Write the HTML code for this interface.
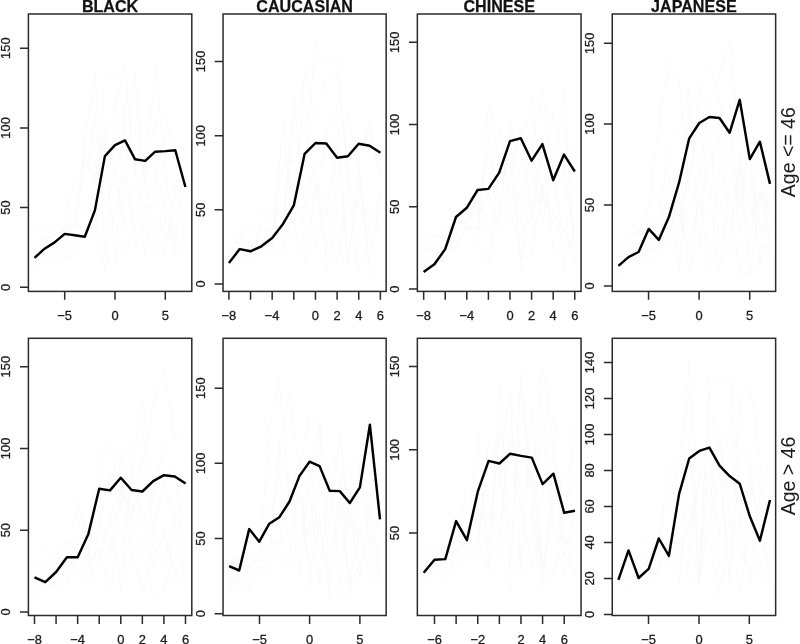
<!DOCTYPE html>
<html lang="en"><head><meta charset="utf-8"><title>Figure</title>
<style>html,body{margin:0;padding:0;background:#fff}body{width:800px;height:644px;overflow:hidden}svg{display:block;filter:blur(0.35px)}</style>
</head><body>
<svg width="800" height="644" viewBox="0 0 800 644" font-family='"Liberation Sans", Arial, Helvetica, sans-serif'>
<rect width="800" height="644" fill="#fff"/>
<g fill="none" stroke="#f8f8f8" stroke-width="0.55"><polyline points="34.5,266.1 44.6,241.2 54.6,254.7 64.7,237.1 74.7,223.6 84.8,236.3 94.9,234.4 104.9,127.0 115.0,262.2 125.0,103.3 135.1,92.9 145.2,184.1 155.2,186.1 165.3,125.8 175.3,163.7 185.4,166.5"/><polyline points="34.5,256.6 44.6,253.8 54.6,233.0 64.7,231.7 74.7,225.2 84.8,208.8 94.9,189.3 104.9,179.2 115.0,225.9 125.0,256.3 135.1,222.3 145.2,226.7 155.2,256.3 165.3,233.9 175.3,248.7 185.4,253.8"/><polyline points="34.5,239.0 44.6,248.3 54.6,233.4 64.7,230.9 74.7,226.1 84.8,140.5 94.9,71.9 104.9,256.3 115.0,106.1 125.0,65.1 135.1,164.7 145.2,256.3 155.2,173.5 165.3,256.3 175.3,184.9 185.4,236.2"/><polyline points="34.5,251.5 44.6,237.8 54.6,234.3 64.7,228.1 74.7,237.9 84.8,229.3 94.9,225.7 104.9,207.1 115.0,180.5 125.0,232.7 135.1,228.8 145.2,205.1 155.2,244.2 165.3,219.8 175.3,192.7 185.4,226.9"/><polyline points="34.5,227.2 44.6,229.0 54.6,227.0 64.7,226.0 74.7,180.3 84.8,179.6 94.9,116.8 104.9,210.8 115.0,211.6 125.0,165.0 135.1,246.4 145.2,219.5 155.2,199.8 165.3,216.7 175.3,252.3 185.4,231.6"/><polyline points="34.5,268.3 44.6,265.1 54.6,245.6 64.7,257.6 74.7,256.0 84.8,227.2 94.9,208.5 104.9,271.9 115.0,208.5 125.0,186.0 135.1,226.5 145.2,232.9 155.2,216.9 165.3,236.0 175.3,222.2 185.4,231.7"/><polyline points="34.5,259.7 44.6,258.7 54.6,261.9 64.7,256.8 74.7,245.3 84.8,240.7 94.9,224.5 104.9,74.2 115.0,76.9 125.0,74.4 135.1,175.7 145.2,179.0 155.2,120.0 165.3,113.0 175.3,155.5 185.4,225.4"/><polyline points="34.5,243.3 44.6,245.8 54.6,225.1 64.7,231.7 74.7,214.6 84.8,205.1 94.9,214.7 104.9,146.5 115.0,100.4 125.0,185.6 135.1,74.7 145.2,182.8 155.2,63.9 165.3,168.9 175.3,250.4 185.4,142.7"/><polyline points="34.5,230.4 44.6,241.0 54.6,234.8 64.7,228.7 74.7,224.9 84.8,162.4 94.9,179.9 104.9,128.4 115.0,175.8 125.0,129.0 135.1,127.6 145.2,181.6 155.2,236.0 165.3,246.3 175.3,207.4 185.4,237.9"/><polyline points="34.5,249.0 44.6,238.1 54.6,250.3 64.7,233.6 74.7,207.0 84.8,158.1 94.9,177.8 104.9,145.1 115.0,173.0 125.0,182.4 135.1,199.1 145.2,208.3 155.2,206.5 165.3,208.6 175.3,239.4 185.4,241.8"/><polyline points="34.5,252.8 44.6,253.9 54.6,254.3 64.7,246.9 74.7,246.4 84.8,148.3 94.9,161.7 104.9,200.9 115.0,179.3 125.0,216.9 135.1,210.0 145.2,213.0 155.2,163.4 165.3,218.7 175.3,247.5 185.4,245.2"/></g>
<rect x="28.4" y="14.0" width="163.4" height="277.4" fill="none" stroke="#2b2b2b" stroke-width="1.5"/>
<path d="M28.4 287.30h-8.4M28.4 207.60h-8.4M28.4 127.90h-8.4M28.4 48.20h-8.4M64.70 291.4v8.4M115.00 291.4v8.4M165.30 291.4v8.4" fill="none" stroke="#2b2b2b" stroke-width="1.5"/>
<g font-size="12.9" fill="#1c1c1c" stroke="#1c1c1c" stroke-width="0.3" text-anchor="middle">
<text transform="translate(9.8 287.30) rotate(-90)">0</text>
<text transform="translate(9.8 207.60) rotate(-90)">50</text>
<text transform="translate(9.8 127.90) rotate(-90)">100</text>
<text transform="translate(9.8 48.20) rotate(-90)">150</text>
<text x="64.70" y="319.5">−5</text>
<text x="115.00" y="319.5">0</text>
<text x="165.30" y="319.5">5</text>
</g>
<text x="110.1" y="11.7" font-size="16.1" font-weight="bold" fill="#111" stroke="#111" stroke-width="0.25" text-anchor="middle">BLACK</text>
<polyline points="34.5,257.8 44.6,248.7 54.6,242.4 64.7,233.9 74.7,235.2 84.8,236.7 94.9,210.4 104.9,156.1 115.0,145.2 125.0,140.4 135.1,159.3 145.2,160.9 155.2,151.7 165.3,151.1 175.3,150.2 185.4,187.0" fill="none" stroke="#000" stroke-width="2.45" stroke-linejoin="round" stroke-linecap="butt"/>
<g fill="none" stroke="#f8f8f8" stroke-width="0.55"><polyline points="228.9,255.7 239.7,233.6 250.5,250.1 261.4,224.4 272.2,204.0 283.0,218.4 293.8,136.6 304.6,151.5 315.5,142.2 326.3,132.6 337.1,186.2 347.9,202.2 358.7,228.3 369.6,243.0 380.4,258.1"/><polyline points="228.9,255.8 239.7,270.8 250.5,245.4 261.4,250.7 272.2,248.5 283.0,122.6 293.8,163.8 304.6,126.3 315.5,186.7 326.3,195.3 337.1,157.4 347.9,115.2 358.7,166.3 369.6,272.5 380.4,272.5"/><polyline points="228.9,260.8 239.7,250.3 250.5,245.4 261.4,240.2 272.2,237.9 283.0,224.0 293.8,109.0 304.6,194.8 315.5,196.7 326.3,136.4 337.1,106.8 347.9,267.1 358.7,164.1 369.6,267.1 380.4,192.9"/><polyline points="228.9,256.2 239.7,247.6 250.5,240.3 261.4,242.0 272.2,227.7 283.0,223.5 293.8,93.5 304.6,210.1 315.5,187.6 326.3,252.3 337.1,180.1 347.9,183.9 358.7,212.4 369.6,216.8 380.4,207.2"/><polyline points="228.9,226.8 239.7,239.5 250.5,215.6 261.4,213.3 272.2,212.9 283.0,203.5 293.8,195.8 304.6,225.1 315.5,234.5 326.3,196.1 337.1,215.4 347.9,210.2 358.7,204.0 369.6,243.5 380.4,227.7"/><polyline points="228.9,262.7 239.7,249.4 250.5,259.2 261.4,252.2 272.2,257.3 283.0,253.0 293.8,208.4 304.6,226.4 315.5,239.5 326.3,273.9 337.1,208.8 347.9,212.3 358.7,198.4 369.6,214.2 380.4,229.2"/><polyline points="228.9,242.8 239.7,243.9 250.5,223.8 261.4,229.8 272.2,214.4 283.0,216.2 293.8,202.9 304.6,198.7 315.5,235.8 326.3,212.4 337.1,238.0 347.9,212.2 358.7,225.7 369.6,204.1 380.4,225.5"/><polyline points="228.9,268.1 239.7,253.8 250.5,244.9 261.4,253.0 272.2,252.5 283.0,161.3 293.8,161.2 304.6,172.2 315.5,43.1 326.3,64.2 337.1,53.6 347.9,172.6 358.7,274.7 369.6,225.2 380.4,198.5"/><polyline points="228.9,264.8 239.7,254.3 250.5,249.4 261.4,243.9 272.2,237.3 283.0,128.1 293.8,223.7 304.6,262.8 315.5,184.7 326.3,217.1 337.1,147.1 347.9,262.8 358.7,186.4 369.6,235.1 380.4,228.2"/><polyline points="228.9,265.5 239.7,241.6 250.5,245.8 261.4,228.5 272.2,231.6 283.0,235.5 293.8,233.5 304.6,70.2 315.5,115.7 326.3,79.3 337.1,73.3 347.9,179.1 358.7,163.3 369.6,119.9 380.4,177.9"/><polyline points="228.9,263.0 239.7,258.1 250.5,251.8 261.4,228.8 272.2,234.2 283.0,236.1 293.8,213.5 304.6,206.1 315.5,163.5 326.3,262.2 337.1,262.2 347.9,188.5 358.7,149.4 369.6,128.1 380.4,181.3"/></g>
<rect x="223.05" y="14.0" width="163.1" height="277.4" fill="none" stroke="#2b2b2b" stroke-width="1.5"/>
<path d="M223.05 284.00h-8.4M223.05 209.80h-8.4M223.05 135.80h-8.4M223.05 61.40h-8.4M228.90 291.4v8.4M250.54 291.4v8.4M272.18 291.4v8.4M293.82 291.4v8.4M315.46 291.4v8.4M337.10 291.4v8.4M358.74 291.4v8.4M380.38 291.4v8.4" fill="none" stroke="#2b2b2b" stroke-width="1.5"/>
<g font-size="12.9" fill="#1c1c1c" stroke="#1c1c1c" stroke-width="0.3" text-anchor="middle">
<text transform="translate(204.5 284.00) rotate(-90)">0</text>
<text transform="translate(204.5 209.80) rotate(-90)">50</text>
<text transform="translate(204.5 135.80) rotate(-90)">100</text>
<text transform="translate(204.5 61.40) rotate(-90)">150</text>
<text x="228.90" y="319.5">−8</text>
<text x="272.18" y="319.5">−4</text>
<text x="315.46" y="319.5">0</text>
<text x="337.10" y="319.5">2</text>
<text x="358.74" y="319.5">4</text>
<text x="380.38" y="319.5">6</text>
</g>
<text x="304.6" y="11.7" font-size="16.1" font-weight="bold" fill="#111" stroke="#111" stroke-width="0.25" text-anchor="middle">CAUCASIAN</text>
<polyline points="228.9,263.0 239.7,249.1 250.5,251.3 261.4,246.3 272.2,238.0 283.0,223.9 293.8,205.4 304.6,153.9 315.5,143.0 326.3,143.5 337.1,157.8 347.9,156.3 358.7,143.7 369.6,145.7 380.4,152.8" fill="none" stroke="#000" stroke-width="2.45" stroke-linejoin="round" stroke-linecap="butt"/>
<g fill="none" stroke="#f8f8f8" stroke-width="0.55"><polyline points="423.6,242.7 434.4,235.7 445.2,236.0 456.0,222.6 466.8,221.5 477.6,209.7 488.4,203.1 499.2,225.3 510.0,199.9 520.8,195.7 531.6,162.3 542.4,222.3 553.2,166.8 564.0,164.7 574.8,239.8"/><polyline points="423.6,269.4 434.4,263.1 445.2,248.6 456.0,239.4 466.8,227.7 477.6,228.2 488.4,225.0 499.2,216.9 510.0,118.1 520.8,186.2 531.6,154.7 542.4,87.4 553.2,171.8 564.0,88.9 574.8,267.0"/><polyline points="423.6,257.6 434.4,267.6 445.2,255.1 456.0,245.9 466.8,228.1 477.6,231.0 488.4,138.2 499.2,203.1 510.0,130.5 520.8,267.9 531.6,176.7 542.4,184.6 553.2,174.3 564.0,267.9 574.8,224.3"/><polyline points="423.6,235.1 434.4,235.9 445.2,238.5 456.0,213.8 466.8,225.5 477.6,207.5 488.4,217.4 499.2,220.0 510.0,214.2 520.8,198.2 531.6,219.9 542.4,184.7 553.2,226.0 564.0,227.8 574.8,248.8"/><polyline points="423.6,247.3 434.4,252.3 445.2,252.4 456.0,248.1 466.8,225.5 477.6,187.5 488.4,202.0 499.2,181.9 510.0,161.6 520.8,260.4 531.6,237.9 542.4,196.0 553.2,215.7 564.0,227.4 574.8,260.4"/><polyline points="423.6,251.0 434.4,249.1 445.2,233.4 456.0,235.0 466.8,225.9 477.6,230.5 488.4,215.8 499.2,216.3 510.0,208.0 520.8,257.3 531.6,257.3 542.4,189.8 553.2,211.2 564.0,234.3 574.8,194.8"/><polyline points="423.6,231.9 434.4,234.0 445.2,221.0 456.0,239.4 466.8,228.9 477.6,217.6 488.4,192.9 499.2,226.3 510.0,223.7 520.8,194.6 531.6,201.9 542.4,200.8 553.2,221.4 564.0,242.2 574.8,250.2"/><polyline points="423.6,264.7 434.4,253.4 445.2,252.6 456.0,245.9 466.8,250.6 477.6,238.7 488.4,270.0 499.2,163.7 510.0,184.1 520.8,128.8 531.6,213.0 542.4,136.9 553.2,185.3 564.0,181.4 574.8,226.9"/><polyline points="423.6,250.8 434.4,244.5 445.2,239.4 456.0,236.7 466.8,212.9 477.6,215.6 488.4,195.3 499.2,129.8 510.0,204.7 520.8,163.2 531.6,217.4 542.4,146.9 553.2,250.8 564.0,250.8 574.8,234.6"/><polyline points="423.6,245.9 434.4,251.5 445.2,251.2 456.0,232.9 466.8,223.5 477.6,239.8 488.4,100.6 499.2,160.6 510.0,172.7 520.8,154.7 531.6,91.8 542.4,193.3 553.2,110.7 564.0,177.9 574.8,145.1"/><polyline points="423.6,237.0 434.4,244.9 445.2,230.1 456.0,222.0 466.8,223.4 477.6,197.7 488.4,157.2 499.2,220.2 510.0,135.1 520.8,223.5 531.6,143.5 542.4,196.9 553.2,165.5 564.0,248.9 574.8,247.0"/></g>
<rect x="417.35" y="14.0" width="163.7" height="277.4" fill="none" stroke="#2b2b2b" stroke-width="1.5"/>
<path d="M417.35 289.05h-8.4M417.35 206.80h-8.4M417.35 124.50h-8.4M417.35 42.30h-8.4M423.65 291.4v8.4M445.24 291.4v8.4M466.82 291.4v8.4M488.41 291.4v8.4M509.99 291.4v8.4M531.58 291.4v8.4M553.17 291.4v8.4M574.75 291.4v8.4" fill="none" stroke="#2b2b2b" stroke-width="1.5"/>
<g font-size="12.9" fill="#1c1c1c" stroke="#1c1c1c" stroke-width="0.3" text-anchor="middle">
<text transform="translate(398.8 289.05) rotate(-90)">0</text>
<text transform="translate(398.8 206.80) rotate(-90)">50</text>
<text transform="translate(398.8 124.50) rotate(-90)">100</text>
<text transform="translate(398.8 42.30) rotate(-90)">150</text>
<text x="423.65" y="319.5">−8</text>
<text x="466.82" y="319.5">−4</text>
<text x="509.99" y="319.5">0</text>
<text x="531.58" y="319.5">2</text>
<text x="553.17" y="319.5">4</text>
<text x="574.75" y="319.5">6</text>
</g>
<text x="499.2" y="11.7" font-size="16.1" font-weight="bold" fill="#111" stroke="#111" stroke-width="0.25" text-anchor="middle">CHINESE</text>
<polyline points="423.6,272.0 434.4,264.3 445.2,249.1 456.0,217.0 466.8,207.8 477.6,190.0 488.4,188.9 499.2,172.6 510.0,141.1 520.8,138.3 531.6,160.7 542.4,144.1 553.2,180.2 564.0,154.6 574.8,171.5" fill="none" stroke="#000" stroke-width="2.45" stroke-linejoin="round" stroke-linecap="butt"/>
<g fill="none" stroke="#f8f8f8" stroke-width="0.55"><polyline points="618.4,274.6 628.5,255.8 638.6,248.4 648.7,236.4 658.8,252.3 668.9,233.6 679.1,234.9 689.2,167.9 699.3,191.8 709.4,269.9 719.5,169.4 729.6,118.1 739.7,208.7 749.8,136.7 759.9,231.9 770.0,216.5"/><polyline points="618.4,236.1 628.5,231.2 638.6,236.7 648.7,224.6 658.8,217.1 668.9,206.6 679.1,192.0 689.2,192.9 699.3,108.2 709.4,99.5 719.5,126.4 729.6,183.8 739.7,184.3 749.8,173.2 759.9,224.4 770.0,233.2"/><polyline points="618.4,255.1 628.5,263.3 638.6,258.7 648.7,249.2 658.8,238.9 668.9,233.4 679.1,228.9 689.2,234.3 699.3,233.5 709.4,210.5 719.5,199.7 729.6,235.6 739.7,167.4 749.8,275.2 759.9,192.5 770.0,210.3"/><polyline points="618.4,228.6 628.5,221.4 638.6,232.2 648.7,206.9 658.8,125.2 668.9,61.4 679.1,80.6 689.2,189.4 699.3,85.4 709.4,64.3 719.5,101.0 729.6,161.3 739.7,208.4 749.8,198.6 759.9,245.7 770.0,248.8"/><polyline points="618.4,254.8 628.5,266.8 638.6,251.0 648.7,243.2 658.8,245.2 668.9,227.0 679.1,230.0 689.2,107.3 699.3,180.9 709.4,99.6 719.5,73.7 729.6,43.8 739.7,141.3 749.8,146.9 759.9,269.7 770.0,145.9"/><polyline points="618.4,249.9 628.5,243.1 638.6,229.4 648.7,229.6 658.8,225.9 668.9,228.8 679.1,212.5 689.2,250.5 699.3,199.1 709.4,164.8 719.5,133.2 729.6,165.2 739.7,156.3 749.8,250.5 759.9,140.7 770.0,250.5"/><polyline points="618.4,244.2 628.5,242.6 638.6,243.9 648.7,222.6 658.8,219.6 668.9,145.2 679.1,131.0 689.2,86.9 699.3,249.3 709.4,117.6 719.5,249.3 729.6,249.3 739.7,154.5 749.8,214.1 759.9,189.7 770.0,208.6"/><polyline points="618.4,262.3 628.5,247.8 638.6,249.6 648.7,250.8 658.8,244.1 668.9,177.2 679.1,273.2 689.2,145.5 699.3,107.0 709.4,146.8 719.5,118.9 729.6,133.1 739.7,229.7 749.8,192.4 759.9,194.9 770.0,242.7"/><polyline points="618.4,259.2 628.5,235.3 638.6,231.8 648.7,243.0 658.8,239.1 668.9,214.6 679.1,231.2 689.2,203.7 699.3,186.8 709.4,178.1 719.5,208.0 729.6,258.4 739.7,246.9 749.8,240.9 759.9,223.2 770.0,241.1"/><polyline points="618.4,276.8 628.5,250.7 638.6,260.5 648.7,260.6 658.8,258.3 668.9,237.6 679.1,194.0 689.2,274.4 699.3,197.2 709.4,180.5 719.5,274.4 729.6,189.2 739.7,274.4 749.8,274.4 759.9,258.4 770.0,240.6"/><polyline points="618.4,255.8 628.5,254.4 638.6,258.3 648.7,252.1 658.8,248.9 668.9,241.5 679.1,270.9 689.2,138.1 699.3,137.1 709.4,169.2 719.5,139.7 729.6,218.0 739.7,219.0 749.8,231.5 759.9,192.5 770.0,217.0"/></g>
<rect x="612.25" y="14.0" width="163.4" height="277.4" fill="none" stroke="#2b2b2b" stroke-width="1.5"/>
<path d="M612.25 286.00h-8.4M612.25 205.00h-8.4M612.25 124.00h-8.4M612.25 43.30h-8.4M648.55 291.4v8.4M699.10 291.4v8.4M749.70 291.4v8.4" fill="none" stroke="#2b2b2b" stroke-width="1.5"/>
<g font-size="12.9" fill="#1c1c1c" stroke="#1c1c1c" stroke-width="0.3" text-anchor="middle">
<text transform="translate(593.6 286.00) rotate(-90)">0</text>
<text transform="translate(593.6 205.00) rotate(-90)">50</text>
<text transform="translate(593.6 124.00) rotate(-90)">100</text>
<text transform="translate(593.6 43.30) rotate(-90)">150</text>
<text x="648.55" y="319.5">−5</text>
<text x="699.10" y="319.5">0</text>
<text x="749.70" y="319.5">5</text>
</g>
<text x="693.9" y="11.7" font-size="16.1" font-weight="bold" fill="#111" stroke="#111" stroke-width="0.25" text-anchor="middle">JAPANESE</text>
<polyline points="618.4,265.9 628.5,257.1 638.6,252.0 648.7,228.9 658.8,239.9 668.9,217.1 679.1,182.4 689.2,138.3 699.3,123.0 709.4,117.0 719.5,118.0 729.6,132.8 739.7,99.8 749.8,159.1 759.9,141.7 770.0,183.9" fill="none" stroke="#000" stroke-width="2.45" stroke-linejoin="round" stroke-linecap="butt"/>
<g fill="none" stroke="#f8f8f8" stroke-width="0.55"><polyline points="34.5,578.4 45.3,567.8 56.1,587.5 66.9,570.0 77.7,564.9 88.4,552.0 99.2,562.5 110.0,544.4 120.8,524.8 131.6,518.3 142.4,560.7 153.2,592.7 164.0,592.7 174.8,536.6 185.6,545.9"/><polyline points="34.5,551.0 45.3,549.6 56.1,552.8 66.9,541.9 77.7,543.8 88.4,540.5 99.2,532.2 110.0,530.5 120.8,500.6 131.6,503.3 142.4,527.2 153.2,568.6 164.0,528.0 174.8,520.0 185.6,547.8"/><polyline points="34.5,564.1 45.3,570.6 56.1,556.9 66.9,541.0 77.7,552.4 88.4,548.5 99.2,540.6 110.0,525.2 120.8,458.9 131.6,531.4 142.4,513.4 153.2,530.8 164.0,527.9 174.8,573.8 185.6,573.8"/><polyline points="34.5,591.9 45.3,586.9 56.1,582.4 66.9,581.5 77.7,555.9 88.4,566.9 99.2,546.4 110.0,594.5 120.8,501.0 131.6,548.0 142.4,594.5 153.2,545.4 164.0,564.1 174.8,513.5 185.6,540.9"/><polyline points="34.5,560.5 45.3,561.4 56.1,557.8 66.9,561.7 77.7,557.8 88.4,554.2 99.2,478.2 110.0,443.3 120.8,503.0 131.6,441.8 142.4,424.0 153.2,531.9 164.0,483.6 174.8,465.0 185.6,577.8"/><polyline points="34.5,594.6 45.3,590.4 56.1,572.5 66.9,561.4 77.7,575.5 88.4,566.6 99.2,548.8 110.0,553.6 120.8,488.6 131.6,518.0 142.4,462.8 153.2,404.8 164.0,366.0 174.8,440.4 185.6,430.5"/><polyline points="34.5,590.3 45.3,584.9 56.1,558.3 66.9,560.5 77.7,501.1 88.4,549.3 99.2,524.5 110.0,475.8 120.8,476.7 131.6,544.6 142.4,559.0 153.2,557.1 164.0,535.8 174.8,574.2 185.6,557.8"/><polyline points="34.5,580.8 45.3,586.5 56.1,563.3 66.9,570.4 77.7,552.6 88.4,562.4 99.2,554.6 110.0,518.6 120.8,589.7 131.6,467.7 142.4,519.5 153.2,494.0 164.0,476.9 174.8,518.5 185.6,589.7"/><polyline points="34.5,578.7 45.3,578.6 56.1,589.3 66.9,584.3 77.7,555.2 88.4,557.6 99.2,562.9 110.0,513.3 120.8,494.4 131.6,478.3 142.4,398.8 153.2,503.8 164.0,441.0 174.8,453.1 185.6,460.8"/><polyline points="34.5,595.5 45.3,571.0 56.1,570.1 66.9,579.2 77.7,574.0 88.4,561.3 99.2,452.4 110.0,482.5 120.8,443.7 131.6,517.1 142.4,477.8 153.2,526.7 164.0,483.6 174.8,533.8 185.6,535.8"/><polyline points="34.5,576.1 45.3,587.0 56.1,581.2 66.9,558.5 77.7,546.7 88.4,587.5 99.2,525.3 110.0,551.6 120.8,530.6 131.6,555.5 142.4,536.3 153.2,530.0 164.0,556.1 174.8,587.5 185.6,571.2"/></g>
<rect x="28.4" y="338.3" width="163.4" height="277.2" fill="none" stroke="#2b2b2b" stroke-width="1.5"/>
<path d="M28.4 612.00h-8.4M28.4 530.20h-8.4M28.4 448.40h-8.4M28.4 366.70h-8.4M34.50 615.55v8.4M56.07 615.55v8.4M77.64 615.55v8.4M99.21 615.55v8.4M120.78 615.55v8.4M142.35 615.55v8.4M163.92 615.55v8.4M185.49 615.55v8.4" fill="none" stroke="#2b2b2b" stroke-width="1.5"/>
<g font-size="12.9" fill="#1c1c1c" stroke="#1c1c1c" stroke-width="0.3" text-anchor="middle">
<text transform="translate(9.8 612.00) rotate(-90)">0</text>
<text transform="translate(9.8 530.20) rotate(-90)">50</text>
<text transform="translate(9.8 448.40) rotate(-90)">100</text>
<text transform="translate(9.8 366.70) rotate(-90)">150</text>
<text x="34.50" y="643.6">−8</text>
<text x="77.64" y="643.6">−4</text>
<text x="120.78" y="643.6">0</text>
<text x="142.35" y="643.6">2</text>
<text x="163.92" y="643.6">4</text>
<text x="185.49" y="643.6">6</text>
</g>
<polyline points="34.5,577.4 45.3,582.2 56.1,572.0 66.9,557.2 77.7,557.2 88.4,533.9 99.2,488.7 110.0,490.4 120.8,477.8 131.6,490.0 142.4,491.5 153.2,481.1 164.0,475.2 174.8,476.5 185.6,483.5" fill="none" stroke="#000" stroke-width="2.45" stroke-linejoin="round" stroke-linecap="butt"/>
<g fill="none" stroke="#f8f8f8" stroke-width="0.55"><polyline points="229.1,580.9 239.2,569.8 249.2,552.7 259.3,555.8 269.3,547.2 279.4,553.9 289.5,549.1 299.5,544.5 309.6,490.2 319.6,582.7 329.7,476.4 339.8,582.7 349.8,582.7 359.9,530.5 369.9,502.0 380.0,502.0"/><polyline points="229.1,566.0 239.2,563.4 249.2,556.2 259.3,563.0 269.3,546.3 279.4,546.5 289.5,533.7 299.5,524.8 309.6,532.9 319.6,423.6 329.7,491.5 339.8,439.5 349.8,505.3 359.9,499.3 369.9,512.8 380.0,578.6"/><polyline points="229.1,568.1 239.2,556.0 249.2,558.3 259.3,561.8 269.3,425.4 279.4,379.4 289.5,502.6 299.5,573.8 309.6,456.0 319.6,433.2 329.7,533.7 339.8,434.1 349.8,533.4 359.9,527.3 369.9,539.4 380.0,548.0"/><polyline points="229.1,559.0 239.2,557.1 249.2,568.5 259.3,549.5 269.3,542.3 279.4,543.6 289.5,526.4 299.5,492.4 309.6,575.8 319.6,526.2 329.7,575.8 339.8,484.3 349.8,504.8 359.9,575.8 369.9,507.1 380.0,516.0"/><polyline points="229.1,576.3 239.2,591.4 249.2,570.0 259.3,573.2 269.3,560.4 279.4,443.7 289.5,394.7 299.5,471.7 309.6,411.5 319.6,419.8 329.7,595.6 339.8,506.1 349.8,466.0 359.9,523.1 369.9,527.4 380.0,554.4"/><polyline points="229.1,591.6 239.2,567.1 249.2,566.0 259.3,560.4 269.3,527.9 279.4,472.0 289.5,541.0 299.5,480.7 309.6,482.5 319.6,505.0 329.7,521.0 339.8,511.1 349.8,514.3 359.9,575.8 369.9,558.3 380.0,590.6"/><polyline points="229.1,581.1 239.2,576.8 249.2,585.5 259.3,571.5 269.3,558.3 279.4,553.5 289.5,557.7 299.5,495.3 309.6,526.2 319.6,527.1 329.7,507.5 339.8,503.3 349.8,596.5 359.9,459.1 369.9,551.8 380.0,513.2"/><polyline points="229.1,586.8 239.2,581.4 249.2,551.8 259.3,549.9 269.3,506.9 279.4,528.3 289.5,512.7 299.5,480.2 309.6,461.5 319.6,549.6 329.7,582.2 339.8,561.9 349.8,518.6 359.9,531.0 369.9,581.6 380.0,582.2"/><polyline points="229.1,569.5 239.2,556.3 249.2,558.5 259.3,560.5 269.3,554.0 279.4,544.6 289.5,473.3 299.5,555.0 309.6,528.1 319.6,480.7 329.7,554.3 339.8,510.3 349.8,580.7 359.9,567.0 369.9,538.6 380.0,575.8"/><polyline points="229.1,582.3 239.2,577.5 249.2,572.3 259.3,565.6 269.3,551.2 279.4,446.4 289.5,495.0 299.5,459.0 309.6,587.1 319.6,478.6 329.7,464.4 339.8,461.2 349.8,587.1 359.9,561.8 369.9,555.8 380.0,576.1"/><polyline points="229.1,584.4 239.2,583.4 249.2,588.8 259.3,565.1 269.3,575.4 279.4,566.6 289.5,568.1 299.5,538.2 309.6,533.0 319.6,520.2 329.7,597.6 339.8,597.6 349.8,487.0 359.9,550.5 369.9,553.2 380.0,565.7"/></g>
<rect x="223.05" y="338.3" width="163.1" height="277.2" fill="none" stroke="#2b2b2b" stroke-width="1.5"/>
<path d="M223.05 613.75h-8.4M223.05 538.55h-8.4M223.05 463.35h-8.4M223.05 388.15h-8.4M259.50 615.55v8.4M309.60 615.55v8.4M359.90 615.55v8.4" fill="none" stroke="#2b2b2b" stroke-width="1.5"/>
<g font-size="12.9" fill="#1c1c1c" stroke="#1c1c1c" stroke-width="0.3" text-anchor="middle">
<text transform="translate(204.5 613.75) rotate(-90)">0</text>
<text transform="translate(204.5 538.55) rotate(-90)">50</text>
<text transform="translate(204.5 463.35) rotate(-90)">100</text>
<text transform="translate(204.5 388.15) rotate(-90)">150</text>
<text x="259.50" y="643.6">−5</text>
<text x="309.60" y="643.6">0</text>
<text x="359.90" y="643.6">5</text>
</g>
<polyline points="229.1,566.2 239.2,570.5 249.2,529.1 259.3,541.7 269.3,523.7 279.4,517.2 289.5,501.5 299.5,475.9 309.6,461.7 319.6,466.1 329.7,490.7 339.8,491.1 349.8,503.0 359.9,487.4 369.9,424.8 380.0,519.3" fill="none" stroke="#000" stroke-width="2.45" stroke-linejoin="round" stroke-linecap="butt"/>
<g fill="none" stroke="#f8f8f8" stroke-width="0.55"><polyline points="423.7,571.4 434.5,561.4 445.3,540.8 456.1,557.1 466.9,534.9 477.8,540.8 488.6,568.7 499.4,381.6 510.2,568.7 521.0,377.4 531.8,484.5 542.6,364.2 553.4,442.7 564.2,514.1 575.0,472.0"/><polyline points="423.7,556.4 434.5,550.5 445.3,560.4 456.1,556.2 466.9,537.5 477.8,432.5 488.6,569.9 499.4,423.1 510.2,401.1 521.0,448.7 531.8,483.6 542.6,569.9 553.4,498.3 564.2,541.2 575.0,544.2"/><polyline points="423.7,566.6 434.5,554.2 445.3,561.9 456.1,542.1 466.9,536.1 477.8,553.9 488.6,541.5 499.4,556.0 510.2,514.6 521.0,517.3 531.8,515.5 542.6,564.5 553.4,576.1 564.2,531.2 575.0,576.1"/><polyline points="423.7,580.0 434.5,564.7 445.3,583.5 456.1,555.2 466.9,554.9 477.8,543.6 488.6,515.0 499.4,545.4 510.2,589.1 521.0,549.9 531.8,528.1 542.6,589.1 553.4,566.3 564.2,551.9 575.0,574.2"/><polyline points="423.7,578.0 434.5,570.1 445.3,579.0 456.1,573.0 466.9,557.2 477.8,560.2 488.6,558.4 499.4,539.3 510.2,422.3 521.0,496.6 531.8,469.6 542.6,418.5 553.4,417.0 564.2,522.5 575.0,422.1"/><polyline points="423.7,582.3 434.5,574.7 445.3,567.6 456.1,559.0 466.9,557.0 477.8,539.9 488.6,488.5 499.4,462.4 510.2,577.4 521.0,373.8 531.8,516.6 542.6,428.4 553.4,449.2 564.2,577.4 575.0,542.4"/><polyline points="423.7,565.7 434.5,560.1 445.3,546.3 456.1,554.6 466.9,485.8 477.8,494.2 488.6,499.2 499.4,532.5 510.2,534.3 521.0,505.5 531.8,567.9 542.6,518.1 553.4,527.5 564.2,539.7 575.0,552.2"/><polyline points="423.7,581.1 434.5,577.7 445.3,573.1 456.1,560.6 466.9,558.8 477.8,548.5 488.6,536.2 499.4,430.7 510.2,468.6 521.0,502.3 531.8,501.0 542.6,583.9 553.4,450.5 564.2,547.9 575.0,526.8"/><polyline points="423.7,554.4 434.5,542.8 445.3,550.9 456.1,539.4 466.9,547.7 477.8,519.9 488.6,511.4 499.4,532.2 510.2,437.7 521.0,512.3 531.8,470.8 542.6,566.6 553.4,522.2 564.2,556.6 575.0,513.6"/><polyline points="423.7,574.7 434.5,567.7 445.3,562.5 456.1,550.6 466.9,556.5 477.8,548.9 488.6,438.1 499.4,473.6 510.2,393.3 521.0,455.0 531.8,476.3 542.6,435.0 553.4,520.7 564.2,504.8 575.0,470.5"/><polyline points="423.7,550.6 434.5,569.2 445.3,558.2 456.1,536.8 466.9,546.9 477.8,535.8 488.6,465.9 499.4,445.6 510.2,398.4 521.0,569.9 531.8,406.7 542.6,569.9 553.4,494.5 564.2,475.9 575.0,451.6"/></g>
<rect x="417.35" y="338.3" width="163.7" height="277.2" fill="none" stroke="#2b2b2b" stroke-width="1.5"/>
<path d="M417.35 533.00h-8.4M417.35 449.75h-8.4M417.35 366.50h-8.4M434.50 615.55v8.4M456.12 615.55v8.4M477.74 615.55v8.4M499.36 615.55v8.4M520.98 615.55v8.4M542.60 615.55v8.4M564.22 615.55v8.4" fill="none" stroke="#2b2b2b" stroke-width="1.5"/>
<g font-size="12.9" fill="#1c1c1c" stroke="#1c1c1c" stroke-width="0.3" text-anchor="middle">
<text transform="translate(398.8 533.00) rotate(-90)">50</text>
<text transform="translate(398.8 449.75) rotate(-90)">100</text>
<text transform="translate(398.8 366.50) rotate(-90)">150</text>
<text x="434.50" y="643.6">−6</text>
<text x="477.74" y="643.6">−2</text>
<text x="520.98" y="643.6">2</text>
<text x="542.60" y="643.6">4</text>
<text x="564.22" y="643.6">6</text>
</g>
<polyline points="423.7,572.8 434.5,559.8 445.3,559.1 456.1,521.1 466.9,540.2 477.8,491.7 488.6,460.9 499.4,463.5 510.2,453.7 521.0,455.9 531.8,457.6 542.6,484.1 553.4,473.7 564.2,512.8 575.0,510.7" fill="none" stroke="#000" stroke-width="2.45" stroke-linejoin="round" stroke-linecap="butt"/>
<g fill="none" stroke="#f8f8f8" stroke-width="0.55"><polyline points="618.4,577.2 628.5,567.4 638.6,552.8 648.7,564.3 658.8,554.4 668.9,542.0 679.1,489.6 689.2,358.7 699.3,583.3 709.4,372.3 719.5,384.3 729.6,373.3 739.7,505.4 749.8,475.2 759.9,529.2 770.0,506.1"/><polyline points="618.4,565.2 628.5,560.8 638.6,573.1 648.7,568.2 658.8,545.0 668.9,544.0 679.1,529.6 689.2,578.5 699.3,578.5 709.4,519.2 719.5,472.4 729.6,433.1 739.7,523.0 749.8,484.6 759.9,508.5 770.0,578.5"/><polyline points="618.4,563.6 628.5,577.5 638.6,573.7 648.7,549.2 658.8,555.5 668.9,540.4 679.1,544.5 689.2,544.1 699.3,579.1 709.4,392.8 719.5,474.3 729.6,579.1 739.7,394.7 749.8,384.6 759.9,454.8 770.0,539.6"/><polyline points="618.4,553.9 628.5,561.9 638.6,549.1 648.7,534.9 658.8,541.7 668.9,467.6 679.1,519.1 689.2,534.6 699.3,474.5 709.4,482.1 719.5,539.0 729.6,545.8 739.7,546.6 749.8,566.1 759.9,560.3 770.0,582.3"/><polyline points="618.4,579.8 628.5,577.8 638.6,570.4 648.7,569.3 658.8,570.6 668.9,545.6 679.1,554.9 689.2,525.8 699.3,476.9 709.4,475.7 719.5,447.5 729.6,497.8 739.7,493.4 749.8,488.5 759.9,513.7 770.0,499.2"/><polyline points="618.4,564.7 628.5,571.2 638.6,569.4 648.7,561.6 658.8,566.3 668.9,545.3 679.1,584.8 689.2,434.5 699.3,584.8 709.4,450.8 719.5,536.8 729.6,453.7 739.7,521.7 749.8,584.8 759.9,490.8 770.0,522.0"/><polyline points="618.4,574.1 628.5,579.7 638.6,575.7 648.7,558.1 658.8,562.7 668.9,553.4 679.1,525.7 689.2,504.9 699.3,543.4 709.4,521.5 719.5,566.5 729.6,536.9 739.7,548.7 749.8,571.9 759.9,569.6 770.0,577.9"/><polyline points="618.4,594.1 628.5,586.3 638.6,579.2 648.7,582.9 658.8,570.8 668.9,557.4 679.1,564.0 689.2,518.6 699.3,526.3 709.4,543.8 719.5,594.1 729.6,518.9 739.7,594.1 749.8,528.1 759.9,576.8 770.0,578.6"/><polyline points="618.4,569.8 628.5,577.3 638.6,563.9 648.7,552.3 658.8,557.0 668.9,561.9 679.1,453.3 689.2,393.4 699.3,479.9 709.4,430.5 719.5,439.3 729.6,432.2 739.7,453.3 749.8,462.6 759.9,538.5 770.0,503.9"/><polyline points="618.4,556.1 628.5,553.4 638.6,555.8 648.7,555.6 658.8,542.8 668.9,493.4 679.1,505.2 689.2,458.8 699.3,513.7 709.4,481.3 719.5,432.1 729.6,518.3 739.7,544.1 749.8,539.3 759.9,538.4 770.0,571.4"/><polyline points="618.4,585.8 628.5,568.4 638.6,580.5 648.7,563.3 658.8,569.5 668.9,542.7 679.1,552.7 689.2,552.5 699.3,478.6 709.4,500.6 719.5,440.0 729.6,586.0 739.7,454.9 749.8,452.4 759.9,490.8 770.0,513.9"/></g>
<rect x="612.25" y="338.3" width="163.4" height="277.2" fill="none" stroke="#2b2b2b" stroke-width="1.5"/>
<path d="M612.25 614.40h-8.4M612.25 578.40h-8.4M612.25 542.40h-8.4M612.25 506.40h-8.4M612.25 470.40h-8.4M612.25 434.40h-8.4M612.25 398.40h-8.4M612.25 362.40h-8.4M648.50 615.55v8.4M699.00 615.55v8.4M749.30 615.55v8.4" fill="none" stroke="#2b2b2b" stroke-width="1.5"/>
<g font-size="12.9" fill="#1c1c1c" stroke="#1c1c1c" stroke-width="0.3" text-anchor="middle">
<text transform="translate(593.6 614.40) rotate(-90)">0</text>
<text transform="translate(593.6 578.40) rotate(-90)">20</text>
<text transform="translate(593.6 542.40) rotate(-90)">40</text>
<text transform="translate(593.6 506.40) rotate(-90)">60</text>
<text transform="translate(593.6 470.40) rotate(-90)">80</text>
<text transform="translate(593.6 434.40) rotate(-90)">100</text>
<text transform="translate(593.6 398.40) rotate(-90)">120</text>
<text transform="translate(593.6 362.40) rotate(-90)">140</text>
<text x="648.50" y="643.6">−5</text>
<text x="699.00" y="643.6">0</text>
<text x="749.30" y="643.6">5</text>
</g>
<polyline points="618.4,579.8 628.5,550.4 638.6,578.0 648.7,568.9 658.8,538.5 668.9,555.9 679.1,493.9 689.2,458.5 699.3,450.9 709.4,447.6 719.5,465.7 729.6,476.1 739.7,483.7 749.8,516.3 759.9,540.7 770.0,500.0" fill="none" stroke="#000" stroke-width="2.45" stroke-linejoin="round" stroke-linecap="butt"/>
<text transform="translate(794.8 152.2) rotate(-90)" font-size="19.5" fill="#1c1c1c" text-anchor="middle">Age &lt;= 46</text>
<text transform="translate(794.8 476.0) rotate(-90)" font-size="19.5" fill="#1c1c1c" text-anchor="middle">Age &gt; 46</text>
</svg>
</body></html>
